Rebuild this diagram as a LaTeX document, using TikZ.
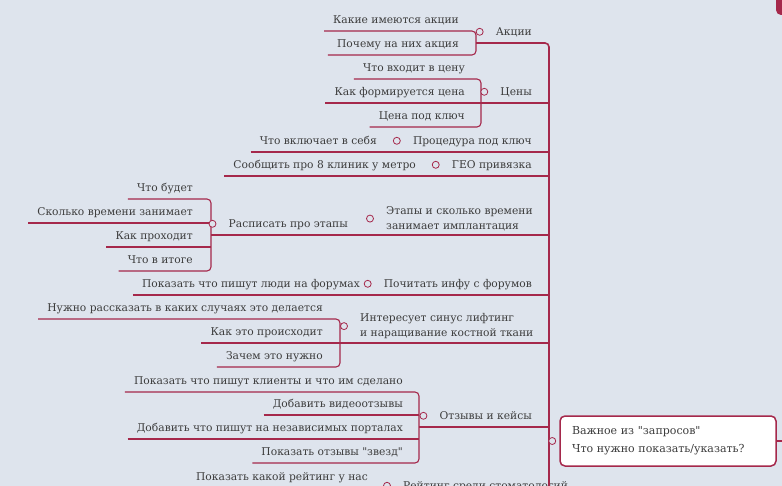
\documentclass[tikz,border=0pt]{standalone}
\usepackage{fontspec}
\setmainfont{DejaVu Serif}

\definecolor{mapbg}{RGB}{222,228,237}
\definecolor{mapline}{RGB}{165,40,75}
\definecolor{maptext}{RGB}{60,60,60}

\tikzset{
  topic/.style={anchor=south east, inner xsep=9pt, inner ysep=0pt,
                text height=15pt, text depth=7pt, text=maptext,
                font=\fontsize{10.7}{15}\selectfont},
  topictwo/.style={anchor=south west, inner xsep=9pt, inner ysep=4pt,
                align=left, text=maptext, font=\fontsize{10.7}{15}\selectfont},
  dot/.style={circle, draw=mapline, fill=mapbg, line width=0.8pt,
              inner sep=0pt, minimum size=7pt},
  link/.style={draw=mapline, line width=1.1pt, rounded corners=4pt},
  trunk/.style={link, line width=1.6pt},
  rootbox/.style={draw=mapline, fill=white, line width=1.5pt, rounded corners=5pt,
                  align=left, text width=192pt, inner xsep=12pt, minimum height=50pt,
                  text=maptext, font=\fontsize{11}{18}\selectfont}
}

\begin{document}
\begin{tikzpicture}[x=1pt,y=-1pt]
\useasboundingbox (0,0) rectangle (782,486);
\fill[mapbg] (0,0) rectangle (782,486);

\coordinate (tend) at (549,520);
\coordinate (b1) at (476,43);
\coordinate (b2) at (481,103);
\coordinate (b5) at (211,235);
\coordinate (b7) at (340,343);
\coordinate (b8) at (419,427);
\coordinate (b9) at (386,497);
\coordinate (rout) at (790,441);

% main branches
\begin{scope}[every node/.style={topic}]
  \node (a1) at (541,43) {Акции};
  \node (a2) at (541,103) {Цены};
  \node (a3) at (541,152) {Процедура под ключ};
  \node (a4) at (541,176) {ГЕО привязка};
  \node (a6) at (541,295) {Почитать инфу с форумов};
  \node (a8) at (541,427) {Отзывы и кейсы};
  \node[anchor=south west] (a9) at (394,497) {Рейтинг среди стоматологий};
\end{scope}
\node[topictwo] (a5) at (377,235) {Этапы и сколько времени\\занимает имплантация};
\node[topictwo] (a7) at (351,343) {Интересует синус лифтинг\\и наращивание костной ткани};

% sub topics
\begin{scope}[every node/.style={topic}]
  \node (k1) at (468,31) {Какие имеются акции};
  \node (k2) at (468,55) {Почему на них акция};
  \node (p1) at (474,79) {Что входит в цену};
  \node (p2) at (474,103) {Как формируется цена};
  \node (p3) at (474,127) {Цена под ключ};
  \node (c3) at (386,152) {Что включает в себя};
  \node (c4) at (425,176) {Сообщить про 8 клиник у метро};
  \node (e0) at (357,235) {Расписать про этапы};
  \node (e1) at (202,199) {Что будет};
  \node (e2) at (202,223) {Сколько времени занимает};
  \node (e3) at (202,247) {Как проходит};
  \node (e4) at (202,271) {Что в итоге};
  \node (f1) at (369,295) {Показать что пишут люди на форумах};
  \node (s1) at (332,319) {Нужно рассказать в каких случаях это делается};
  \node (s2) at (332,343) {Как это происходит};
  \node (s3) at (332,367) {Зачем это нужно};
  \node (o1) at (412,392) {Показать что пишут клиенты и что им сделано};
  \node (o2) at (412,415) {Добавить видеоотзывы};
  \node (o3) at (412,439) {Добавить что пишут на независимых порталах};
  \node (o4) at (412,463) {Показать отзывы \textquotedbl звезд\textquotedbl};
  \node (r1) at (377,488) {Показать какой рейтинг у нас};
\end{scope}

\begin{scope}[every path/.style={link}]
  \draw (k1.south west) -| (b1) |- (k2.south west);
  \draw[trunk] (b1) -| (tend);
  \draw (p1.south west) -| (b2) |- (p3.south west);
  \draw (p2.south west) -- (p2.south west -| tend);
  \draw (c3.south west) -- (c3.south west -| tend);
  \draw (c4.south west) -- (c4.south west -| tend);
  \draw (e1.south west) -| (b5) |- (e4.south west);
  \draw (e2.south west) -- (e2.south west -| b5);
  \draw (e3.south west) -- (e3.south west -| b5);
  \draw (b5) -- (b5 -| tend);
  \draw (f1.south west) -- (f1.south west -| tend);
  \draw (s1.south west) -| (b7) |- (s3.south west);
  \draw (s2.south west) -- (s2.south west -| tend);
  \draw (o1.south west) -| (b8) |- (o4.south west);
  \draw (o2.south west) -- (o2.south west -| b8);
  \draw (o3.south west) -- (o3.south west -| b8);
  \draw (b8) -- (b8 -| tend);
  \draw (r1.south west) -| (b9) -- (b9 -| tend);
\end{scope}

\node[rootbox] (root) at (668,441) {Важное из \textquotedbl запросов\textquotedbl\\Что нужно показать/указать?};
\draw[link] (root.east) -- (rout);
\node[fill=mapline, rounded corners=5pt, minimum width=48pt, minimum height=30pt] (next) at (800,0) {};

\begin{scope}[every node/.style={dot}]
  \node at ([xshift=-7pt]a1.west) {};
  \node at ([xshift=-7pt]a2.west) {};
  \node at ([xshift=-7pt]a3.west) {};
  \node at ([xshift=-7pt]a4.west) {};
  \node at ([xshift=-7pt]a5.west) {};
  \node at ([xshift=-7pt]a6.west) {};
  \node at ([xshift=-7pt]a7.west) {};
  \node at ([xshift=-7pt]a8.west) {};
  \node at ([xshift=-7pt]a9.west) {};
  \node at ([xshift=-7pt]e0.west) {};
  \node at ([xshift=-7pt]root.west) {};
\end{scope}
\end{tikzpicture}
\end{document}
